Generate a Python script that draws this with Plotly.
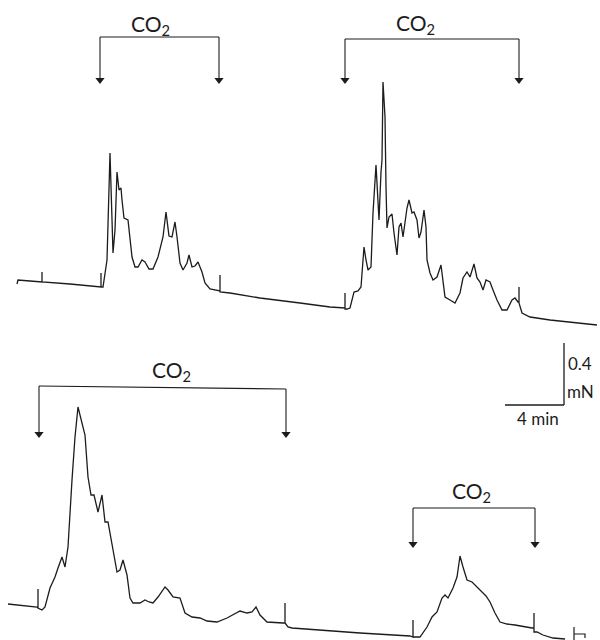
import plotly.graph_objects as go

# Pen recorder trace: horizontal chart position and
# pen position (distance from top of the chart paper), same length units.
top_x = [17, 18, 30, 42, 42, 42, 70, 100, 101, 101, 101, 103, 107, 110, 113, 115, 117, 119, 121, 122,
         124, 128, 132, 135, 138, 142, 145, 149, 153, 158, 163, 166, 169, 172, 175, 177, 180, 183, 187, 189,
         192, 195, 198, 202, 205, 210, 218, 220, 220, 220, 230, 260, 300, 330, 345, 345, 345, 347, 350, 354,
         358, 361, 364, 366, 368, 371, 373, 376, 377, 379, 381, 382, 383, 385, 386, 387, 389, 392, 394, 397,
         399, 401, 403, 407, 409, 412, 414, 417, 419, 421, 424, 426, 427, 430, 433, 437, 441, 443, 445, 450,
         455, 460, 463, 467, 470, 474, 477, 480, 483, 486, 490, 493, 497, 502, 507, 512, 515, 518, 519, 519,
         519, 522, 530, 550, 575, 597]
top_y = [284, 280, 281, 282, 272, 282, 284, 287, 287, 273, 287, 287, 260, 153, 253, 230, 172, 190, 188, 200,
         218, 220, 257, 267, 267, 260, 262, 269, 269, 257, 237, 212, 236, 237, 222, 237, 263, 270, 263, 255,
         267, 266, 262, 272, 283, 289, 291, 291, 275, 292, 293, 298, 303, 307, 308, 293, 309, 309, 308, 292,
         291, 287, 247, 260, 270, 267, 213, 165, 187, 220, 172, 160, 82, 117, 187, 228, 217, 214, 233, 255,
         227, 223, 237, 208, 200, 213, 212, 220, 238, 232, 210, 227, 260, 273, 280, 277, 265, 280, 297, 300,
         303, 293, 278, 272, 277, 264, 278, 282, 290, 280, 282, 290, 300, 310, 310, 300, 298, 302, 302, 287,
         303, 313, 317, 320, 323, 325]

bottom_x = [8, 37, 38, 38, 38, 42, 45, 50, 55, 58, 62, 65, 68, 72, 75, 78, 82, 85, 88, 91,
            94, 98, 102, 105, 108, 112, 117, 120, 123, 127, 130, 133, 140, 145, 149, 153, 158, 165, 168, 173,
            180, 185, 192, 200, 207, 217, 227, 240, 247, 252, 256, 260, 267, 283, 285, 285, 285, 288, 292, 360,
            410, 413, 413, 413, 420, 427, 432, 437, 442, 445, 448, 453, 457, 460, 463, 467, 472, 477, 482, 486,
            490, 495, 500, 507, 515, 525, 532, 534, 534, 534, 537, 543, 553, 565]
bottom_y = [604, 607, 608, 589, 608, 610, 607, 588, 577, 568, 557, 567, 547, 480, 437, 407, 422, 435, 477, 495,
            495, 512, 495, 522, 522, 543, 572, 570, 560, 575, 598, 603, 603, 600, 602, 603, 597, 587, 590, 597,
            598, 613, 617, 618, 621, 622, 618, 611, 613, 612, 607, 615, 622, 623, 623, 603, 623, 627, 628, 633,
            636, 637, 620, 637, 637, 627, 617, 612, 598, 595, 598, 588, 577, 556, 567, 580, 582, 587, 593, 596,
            602, 613, 622, 624, 625, 627, 628, 628, 613, 632, 632, 635, 638, 639]

end_mark_x = [574, 574, 574, 585, 585]
end_mark_y = [640, 627, 634, 634, 638]

# CO2 application periods (start, end) on each trace
co2_start = [100, 345, 39, 413]
co2_end = [219, 519, 286, 535]
co2_label = ["CO<sub>2</sub>"] * 4

# Calibration bar
scale_time_label = "4 min"
scale_force_label = ["0.4", "mN"]

# ---- layout positions (not data) ----
bracket_top = [37, 39, 386, 508]
bracket_top_end = [37, 39, 389, 508]
arrow_tip = [83, 83, 437, 547]
label_x = [150, 415, 171, 471]
label_y = [25, 24, 371, 492]

INK = "#1c1c1c"
fig = go.Figure()
fig.add_trace(go.Scatter(x=top_x, y=top_y, mode="lines",
                         line=dict(color=INK, width=1.3), hoverinfo="skip"))
fig.add_trace(go.Scatter(x=bottom_x, y=bottom_y, mode="lines",
                         line=dict(color=INK, width=1.3), hoverinfo="skip"))
fig.add_trace(go.Scatter(x=end_mark_x, y=end_mark_y, mode="lines",
                         line=dict(color=INK, width=1.2), hoverinfo="skip"))

annotations = []
shapes = []
head_x, head_y = [], []
for i in range(len(co2_start)):
    s, e = co2_start[i], co2_end[i]
    shapes.append(dict(type="line", xref="x", yref="y", x0=s, x1=e,
                       y0=bracket_top[i], y1=bracket_top_end[i],
                       line=dict(color=INK, width=1.2)))
    for xx, yy in ((s, bracket_top[i]), (e, bracket_top_end[i])):
        shapes.append(dict(type="line", xref="x", yref="y", x0=xx, x1=xx,
                           y0=yy, y1=arrow_tip[i] - 4,
                           line=dict(color=INK, width=1.1)))
        head_x.append(xx)
        head_y.append(arrow_tip[i] - 3)
    annotations.append(dict(x=label_x[i], y=label_y[i], xref="x", yref="y",
                            text=co2_label[i], showarrow=False,
                            font=dict(family="Lato", size=21, color=INK)))

fig.add_trace(go.Scatter(x=head_x, y=head_y, mode="markers",
                         marker=dict(symbol="triangle-down", size=8, color=INK,
                                     line=dict(width=0)),
                         hoverinfo="skip"))

# calibration bar
shapes.append(dict(type="line", xref="x", yref="y", x0=564, x1=564, y0=343, y1=405,
                   line=dict(color=INK, width=1.3)))
shapes.append(dict(type="line", xref="x", yref="y", x0=505, x1=564, y0=405, y1=405,
                   line=dict(color=INK, width=1.3)))
annotations.append(dict(x=566, y=363, xref="x", yref="y", text=scale_force_label[0],
                        showarrow=False, xanchor="left",
                        font=dict(family="Lato", size=17, color=INK)))
annotations.append(dict(x=565, y=391, xref="x", yref="y", text=scale_force_label[1],
                        showarrow=False, xanchor="left",
                        font=dict(family="Lato", size=17, color=INK)))
annotations.append(dict(x=538, y=418, xref="x", yref="y", text=scale_time_label,
                        showarrow=False,
                        font=dict(family="Lato", size=17, color=INK)))

fig.update_layout(
    width=600, height=640,
    margin=dict(l=0, r=0, t=0, b=0),
    paper_bgcolor="white", plot_bgcolor="white",
    showlegend=False,
    xaxis=dict(range=[0, 600], visible=False, fixedrange=True),
    yaxis=dict(range=[640, 0], visible=False, fixedrange=True),
    shapes=shapes, annotations=annotations,
)
fig.write_html("out.html", config={"displayModeBar": False},
               post_script="document.body.style.margin='0';document.body.style.overflow='hidden';")
